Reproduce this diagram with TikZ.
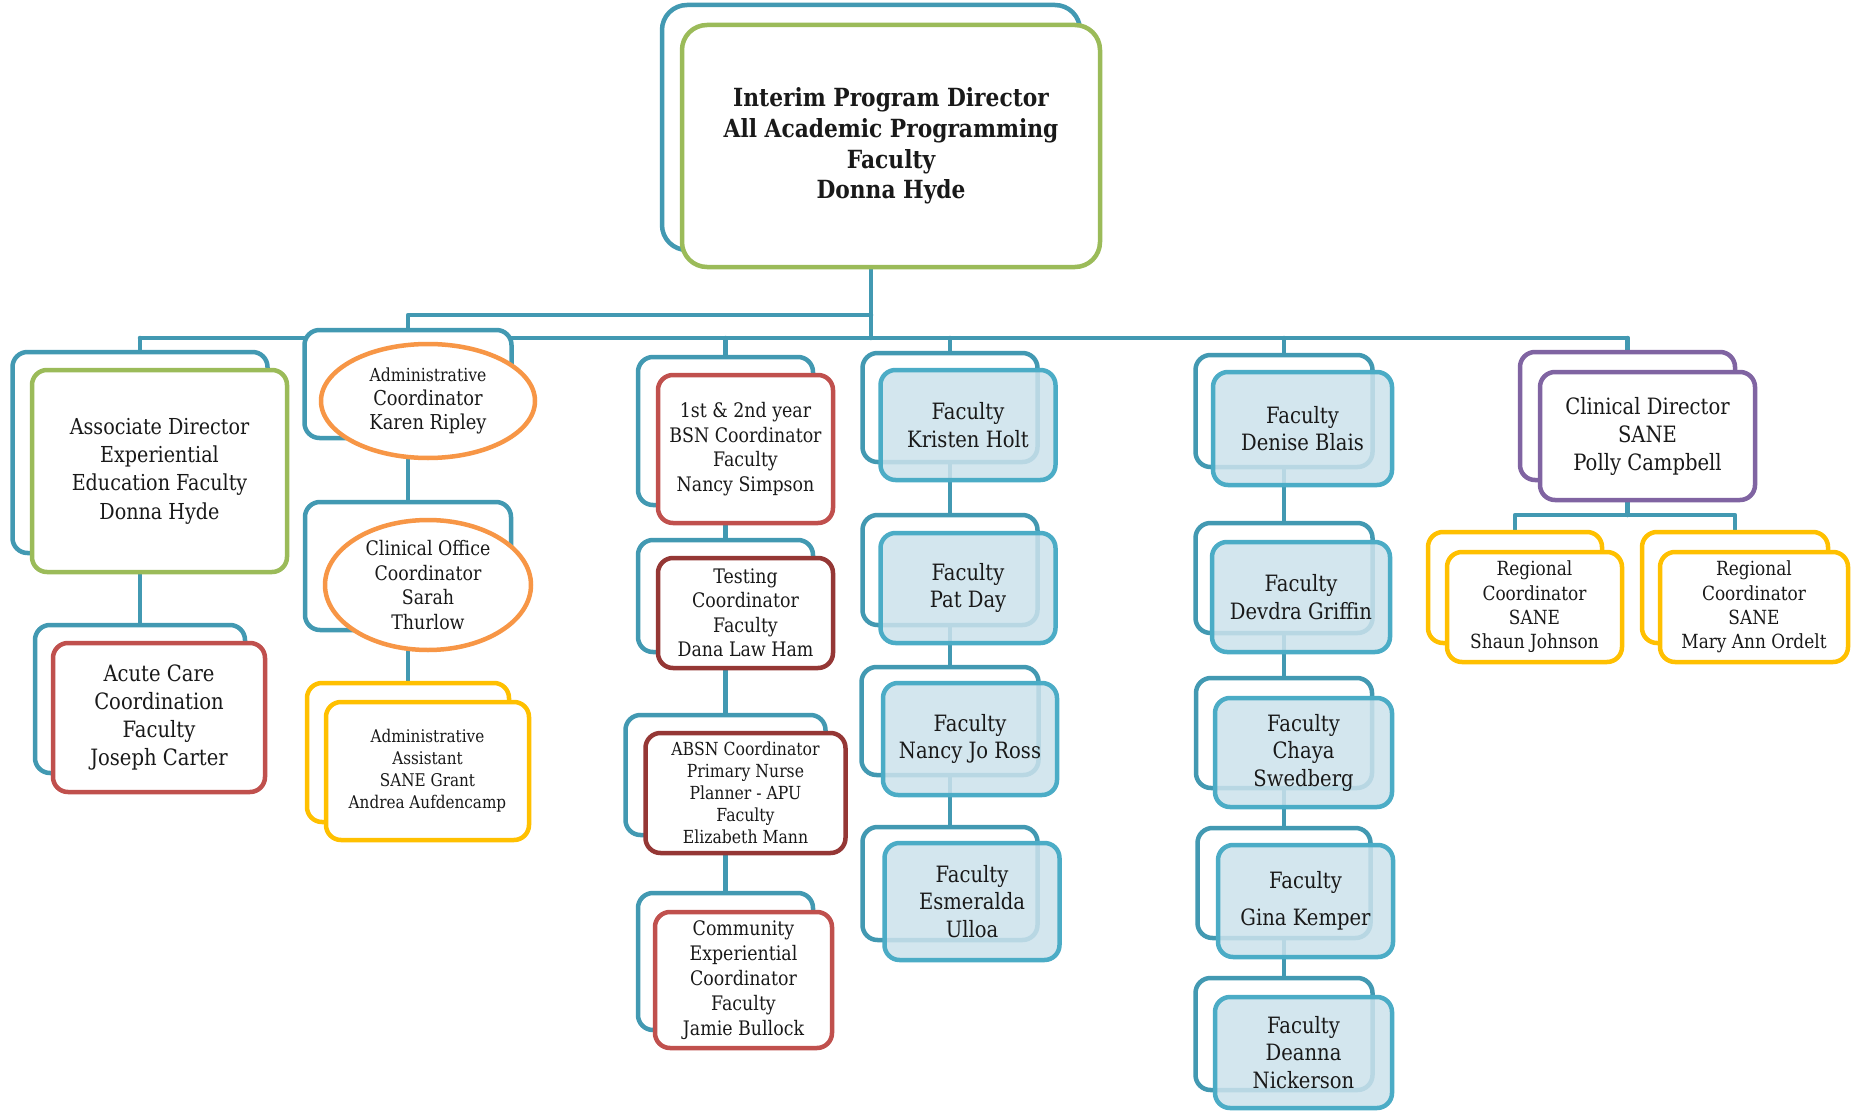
\documentclass[tikz,border=0pt]{standalone}
\usepackage{fontspec}
\setmainfont{DejaVu Serif}[FakeStretch=0.87]
\usetikzlibrary{shapes.geometric}
\pgfdeclarelayer{background}
\pgfsetlayers{background,main}
\definecolor{orgteal}{RGB}{66,153,178}
\definecolor{orgaqua}{RGB}{75,172,198}
\definecolor{orgfill}{RGB}{204,226,236}
\definecolor{orggreen}{RGB}{155,187,89}
\definecolor{orgred}{RGB}{192,80,77}
\definecolor{orgdarkred}{RGB}{149,55,53}
\definecolor{orgorange}{RGB}{247,150,70}
\definecolor{orgyellow}{RGB}{255,192,0}
\definecolor{orgpurple}{RGB}{128,100,162}
\newcommand{\orgsize}[2]{\fontsize{#1}{#2}\selectfont}

\begin{document}
\begin{tikzpicture}[x=1pt, y=-1pt,
  every node/.style={rounded corners=15pt, line width=4.5pt, align=center, inner sep=0pt, text=black!90},
  backbox/.style={draw=orgteal, fill=white},
  greenbox/.style={draw=orggreen, fill=white},
  redbox/.style={draw=orgred, fill=white},
  darkredbox/.style={draw=orgdarkred, fill=white},
  yellowbox/.style={draw=orgyellow, fill=white},
  purplebox/.style={draw=orgpurple, fill=white},
  bubble/.style={ellipse, draw=orgorange, fill=white},
  facbox/.style={draw=orgaqua, fill=orgfill, fill opacity=0.86, text opacity=1, font=\orgsize{22.5}{27.5}},
  sanebox/.style={yellowbox, font=\orgsize{19.5}{24.3}},
  link/.style={draw=orgteal, line width=4.5pt, line cap=round, line join=round}]

\node[backbox, rounded corners=25pt, minimum width=418pt, minimum height=245pt] (topB) at (871,127.5) {};
\node[greenbox, rounded corners=25pt, minimum width=418pt, minimum height=242pt, font=\orgsize{25}{30.7}\bfseries] (top) at (891,146) {Interim Program Director\\All Academic Programming\\Faculty\\Donna Hyde};

\node[backbox, minimum width=255pt, minimum height=201pt] (assocB) at (140,452.5) {};
\node[greenbox, minimum width=255pt, minimum height=202pt, font=\orgsize{22}{28.3}] (assoc) at (159.5,471) {Associate Director\\Experiential\\Education Faculty\\Donna Hyde};
\node[backbox, minimum width=210pt, minimum height=148pt] (acuteB) at (140,699) {};
\node[redbox, minimum width=212pt, minimum height=149pt, font=\orgsize{22.5}{28.3}] (acute) at (159,717.5) {Acute Care\\Coordination\\Faculty\\Joseph Carter};

\node[backbox, minimum width=207pt, minimum height=108pt] (admcoB) at (408,384) {};
\node[bubble, minimum width=214pt, minimum height=114pt, font=\orgsize{20.5}{24}] (admco) at (428,401) {{\orgsize{18}{24}Administrative}\\Coordinator\\Karen Ripley};
\node[backbox, minimum width=206pt, minimum height=128pt] (clinoB) at (408,566) {};
\node[bubble, minimum width=206pt, minimum height=130pt, font=\orgsize{20}{24.7}] (clino) at (428,585) {Clinical Office\\Coordinator\\Sarah\\Thurlow};
\node[backbox, draw=orgyellow, minimum width=202pt, minimum height=139pt] (asstB) at (408,752.5) {};
\node[yellowbox, minimum width=203pt, minimum height=138pt, font=\orgsize{17.5}{22}] (asst) at (427.5,771) {Administrative\\Assistant\\SANE Grant\\Andrea Aufdencamp};

\node[backbox, minimum width=175pt, minimum height=148pt] (bsnB) at (725.5,431) {};
\node[redbox, minimum width=175pt, minimum height=148pt, font=\orgsize{20}{24.7}] (bsn) at (745.5,449) {1st \& 2nd year\\BSN Coordinator\\Faculty\\Nancy Simpson};
\node[backbox, minimum width=175pt, minimum height=112pt] (testB) at (725.5,596) {};
\node[darkredbox, minimum width=175pt, minimum height=110pt, font=\orgsize{20}{24.5}] (test) at (745.5,613) {Testing\\Coordinator\\Faculty\\Dana Law Ham};
\node[backbox, minimum width=200pt, minimum height=120pt] (absnB) at (725.5,775) {};
\node[darkredbox, minimum width=200pt, minimum height=120pt, font=\orgsize{18}{22}] (absn) at (745.5,793) {ABSN Coordinator\\Primary Nurse\\Planner - APU\\Faculty\\Elizabeth Mann};
\node[backbox, minimum width=175pt, minimum height=137pt] (commB) at (725.5,961.5) {};
\node[redbox, minimum width=177pt, minimum height=136pt, font=\orgsize{20}{25}] (comm) at (743.5,980) {Community\\Experiential\\Coordinator\\Faculty\\Jamie Bullock};

\node[backbox, minimum width=175pt, minimum height=109pt] (holtB) at (950,407.5) {};
\node[facbox, minimum width=175pt, minimum height=110pt] (holt) at (968,425) {Faculty\\Kristen Holt};
\node[backbox, minimum width=175pt, minimum height=110pt] (dayB) at (950,570) {};
\node[facbox, minimum width=175pt, minimum height=110pt] (day) at (968,588) {Faculty\\Pat Day};
\node[backbox, minimum width=177pt, minimum height=108pt] (rossB) at (950,721) {};
\node[facbox, minimum width=174pt, minimum height=112pt] (ross) at (970,739) {Faculty\\Nancy Jo Ross};
\node[backbox, minimum width=175pt, minimum height=113pt] (ulloaB) at (950,883.5) {};
\node[facbox, minimum width=175pt, minimum height=117pt] (ulloa) at (972,901.5) {Faculty\\Esmeralda\\Ulloa};

\node[backbox, minimum width=177pt, minimum height=112pt] (blaisB) at (1284,411) {};
\node[facbox, minimum width=179pt, minimum height=113pt] (blais) at (1302.5,428.5) {Faculty\\Denise Blais};
\node[backbox, minimum width=177pt, minimum height=110pt] (griffinB) at (1284,578) {};
\node[facbox, minimum width=178pt, minimum height=110pt] (griffin) at (1301,597) {Faculty\\Devdra Griffin};
\node[backbox, minimum width=176pt, minimum height=110pt] (swedB) at (1284,733) {};
\node[facbox, minimum width=177pt, minimum height=109pt] (swed) at (1303.5,752.5) {Faculty\\Chaya\\Swedberg};
\node[backbox, minimum width=173pt, minimum height=110pt] (kempB) at (1284,883) {};
\node[facbox, minimum width=175pt, minimum height=112pt] (kemp) at (1305.5,901) {Faculty\\[9pt]Gina Kemper};
\node[backbox, minimum width=177pt, minimum height=112pt] (nickB) at (1284,1034) {};
\node[facbox, minimum width=177pt, minimum height=111pt] (nick) at (1303.5,1052.5) {Faculty\\Deanna\\Nickerson};

\node[backbox, draw=orgpurple, minimum width=215pt, minimum height=128pt] (campbellB) at (1627.5,416) {};
\node[purplebox, minimum width=215pt, minimum height=128pt, font=\orgsize{22.5}{28}] (campbell) at (1647.5,436) {Clinical Director\\SANE\\Polly Campbell};
\node[backbox, draw=orgyellow, minimum width=174pt, minimum height=111pt] (johnsonB) at (1515,587.5) {};
\node[sanebox, minimum width=175pt, minimum height=110pt] (johnson) at (1534.5,607) {Regional\\Coordinator\\SANE\\Shaun Johnson};
\node[backbox, draw=orgyellow, minimum width=186pt, minimum height=111pt] (ordeltB) at (1735,587.5) {};
\node[sanebox, minimum width=188pt, minimum height=110pt] (ordelt) at (1754,607) {Regional\\Coordinator\\SANE\\Mary Ann Ordelt};

\coordinate (hub) at (871,338);
\coordinate (busW) at (140,338);
\coordinate (busE) at (1627.5,338);
\coordinate (admbus) at (871,315);
\coordinate (admturn) at (408,315);
\coordinate (sanebus) at (1627.5,515);

\begin{pgfonlayer}{background}
\fill[white] (0,0) rectangle (1853,1108);
\draw[link] (topB) -- (hub);
\draw[link] (busW) -- (busE);
\draw[link] (busW) -- (assocB) -- (acuteB);
\draw[link] (admbus) -- (admturn) -- (admcoB) -- (clinoB) -- (asstB);
\draw[link] (hub -| bsnB) -- (bsnB) -- (testB) -- (absnB) -- (commB);
\draw[link] (hub -| holtB) -- (holtB) -- (dayB) -- (rossB) -- (ulloaB);
\draw[link] (hub -| blaisB) -- (blaisB) -- (griffinB) -- (swedB) -- (kempB) -- (nickB);
\draw[link] (busE) -- (campbellB) -- (sanebus);
\draw[link] (johnsonB) |- (sanebus) -| (ordeltB);
\end{pgfonlayer}
\end{tikzpicture}
\end{document}
